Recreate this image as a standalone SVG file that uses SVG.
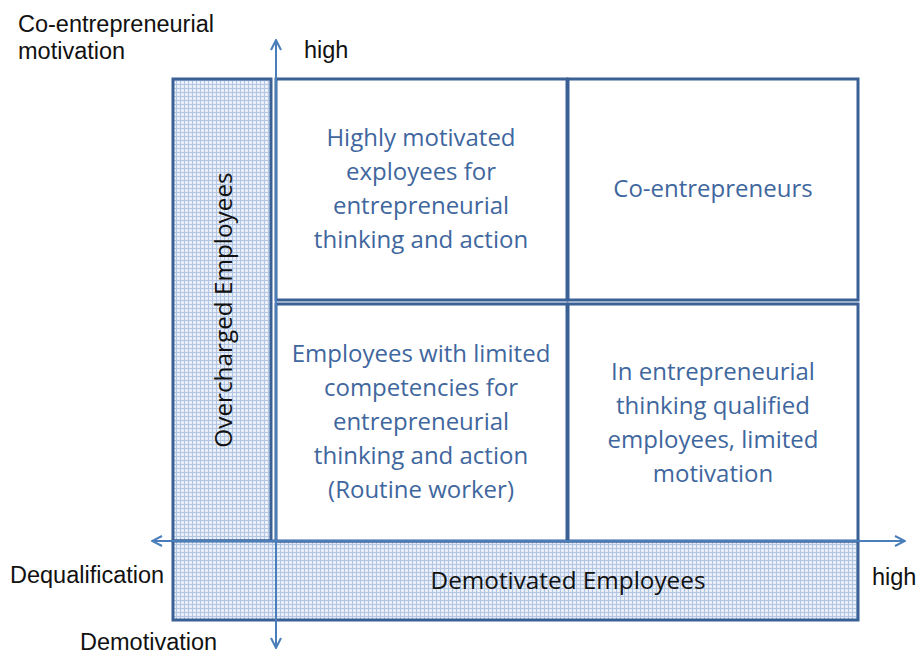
<svg xmlns="http://www.w3.org/2000/svg" width="919" height="655" viewBox="0 0 919 655">
<style>
.box{fill:#fff;stroke:#3A6096;stroke-width:3}
.pat{fill:url(#grid);stroke:#3A6096;stroke-width:3}
.q{font-family:"Open Sans","Liberation Sans",sans-serif;font-size:24px;fill:#3F679E;text-anchor:middle}
.lbl{font-family:"Liberation Sans",Arial,sans-serif;font-size:23.5px;fill:#111}
.big{font-family:"Open Sans","Liberation Sans",sans-serif;font-size:24.3px;fill:#111;text-anchor:middle}
.ax{stroke:#4A7EBB;stroke-width:2;fill:none}
</style>
<defs>
<pattern id="grid" width="4" height="4" patternUnits="userSpaceOnUse">
<rect width="4" height="4" fill="#E6EDF7"/>
<path d="M0 0.5H4M0.5 0V4" stroke="#B3C7E4" stroke-width="1"/>
<rect x="2" y="2" width="1" height="1" fill="#F7F9FC"/>
</pattern>
<marker id="ah" viewBox="0 0 12 12" refX="11" refY="6" markerWidth="12" markerHeight="12" markerUnits="userSpaceOnUse" orient="auto">
<path d="M1 1L11 6L1 11" fill="none" stroke="#4A7EBB" stroke-width="2"/>
</marker>
</defs>
<g id="overcharged">
<rect class="pat" x="173" y="79" width="98" height="462"/>
<text class="big" transform="translate(232,310) rotate(-90)">Overcharged Employees</text>
</g>
<g id="demotivated">
<rect class="pat" x="173" y="541" width="685" height="79"/>
<text class="big" x="568" y="589">Demotivated Employees</text>
</g>
<g id="q-tl">
<rect class="box" x="276" y="79" width="291" height="221"/>
<text class="q" x="421" y="146">Highly motivated</text>
<text class="q" x="421" y="180">exployees for</text>
<text class="q" x="421" y="214">entrepreneurial</text>
<text class="q" x="421" y="248">thinking and action</text>
</g>
<g id="q-tr">
<rect class="box" x="568" y="79" width="290" height="221"/>
<text class="q" x="713" y="197">Co-entrepreneurs</text>
</g>
<g id="q-bl">
<rect class="box" x="276" y="304" width="291" height="237"/>
<text class="q" x="421" y="362">Employees with limited</text>
<text class="q" x="421" y="396">competencies for</text>
<text class="q" x="421" y="430">entrepreneurial</text>
<text class="q" x="421" y="464">thinking and action</text>
<text class="q" x="421" y="498">(Routine worker)</text>
</g>
<g id="q-br">
<rect class="box" x="568" y="304" width="290" height="237"/>
<text class="q" x="713" y="380">In entrepreneurial</text>
<text class="q" x="713" y="414">thinking qualified</text>
<text class="q" x="713" y="448">employees, limited</text>
<text class="q" x="713" y="482">motivation</text>
</g>
<g id="connectors">
<line class="ax" x1="276" y1="560" x2="276" y2="40" marker-end="url(#ah)"/>
<line class="ax" x1="276" y1="520" x2="276" y2="648" marker-end="url(#ah)"/>
<line class="ax" x1="300" y1="541" x2="905" y2="541" marker-end="url(#ah)"/>
<line class="ax" x1="300" y1="541" x2="152" y2="541" marker-end="url(#ah)"/>
</g>
<g id="labels">
<text class="lbl" x="18" y="32">Co-entrepreneurial</text>
<text class="lbl" x="18" y="59">motivation</text>
<text class="lbl" x="304" y="58">high</text>
<text class="lbl" x="10" y="583">Dequalification</text>
<text class="lbl" x="872" y="585">high</text>
<text class="lbl" x="80" y="650">Demotivation</text>
</g>
</svg>
